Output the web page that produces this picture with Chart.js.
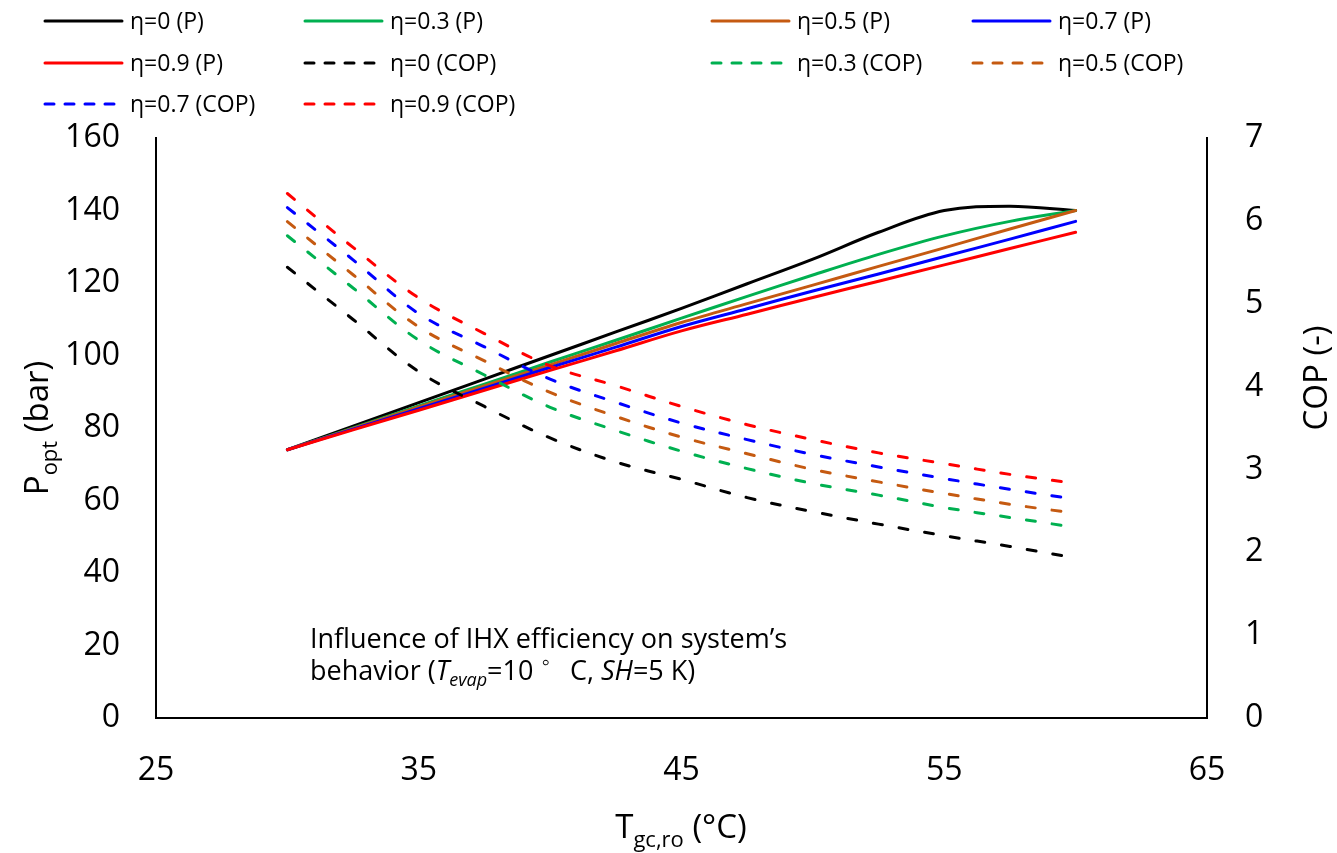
<!DOCTYPE html>
<html>
<head>
<meta charset="utf-8">
<script src="https://cdn.jsdelivr.net/npm/chart.js@4.4.0/dist/chart.umd.min.js"></script>
<style>
  html, body { margin: 0; padding: 0; background: #fff; }
  #grafico { display: block; }
</style>
</head>
<body>
<canvas id="grafico" width="1337" height="853"></canvas>
<script>
const FUENTE = '"Open Sans", "Noto Sans", sans-serif';

// temperatura de salida del gas cooler (°C)
const temperaturas = [30, 32.5, 35, 37.5, 40, 42.5, 45, 47.5, 50, 52.5, 55, 57.5, 60];

// presion optima (bar) para cada eficiencia del IHX
const presionEta0 = [74, 80.5, 87, 93.5, 100, 106.5, 113, 119.8, 126.6, 134, 140, 141.2, 140];
const presionEta03 = [74, 80, 86.1, 92.1, 98.2, 104.2, 110.3, 116.3, 122.2, 127.9, 133, 137, 140];
const presionEta05 = [74, 79.9, 85.8, 91.6, 97.4, 103.3, 109.1, 114.3, 119.4, 124.6, 129.7, 134.9, 140];
const presionEta07 = [74, 79.7, 85.3, 91, 96.7, 102.3, 108, 112.9, 117.8, 122.5, 127.3, 132.1, 137];
const presionEta09 = [74, 79.5, 84.9, 90.4, 95.9, 101.3, 106.8, 111.4, 116, 120.5, 125, 129.5, 134];

// COP para cada eficiencia del IHX
const copEta0 = [5.44, 4.81, 4.18, 3.76, 3.38, 3.09, 2.88, 2.66, 2.49, 2.34, 2.20, 2.07, 1.93];
const copEta03 = [5.82, 5.19, 4.56, 4.14, 3.75, 3.47, 3.22, 3.01, 2.83, 2.69, 2.54, 2.42, 2.30];
const copEta05 = [5.99, 5.35, 4.72, 4.31, 3.93, 3.64, 3.39, 3.19, 3.00, 2.85, 2.71, 2.58, 2.47];
const copEta07 = [6.16, 5.53, 4.88, 4.48, 4.09, 3.81, 3.56, 3.36, 3.18, 3.03, 2.89, 2.76, 2.64];
const copEta09 = [6.33, 5.68, 5.07, 4.64, 4.25, 4.01, 3.76, 3.54, 3.36, 3.20, 3.07, 2.94, 2.83];

const etiquetas = ['η=0 (P)', 'η=0.3 (P)', 'η=0.5 (P)', 'η=0.7 (P)', 'η=0.9 (P)',
    'η=0 (COP)', 'η=0.3 (COP)', 'η=0.5 (COP)', 'η=0.7 (COP)', 'η=0.9 (COP)'];
const colores = ['#000000', '#00B050', '#C55A11', '#0000FF', '#FF0000'];

const ticksX = [25, 35, 45, 55, 65];
const ticksP = [0, 20, 40, 60, 80, 100, 120, 140, 160];
const ticksCOP = [0, 1, 2, 3, 4, 5, 6, 7];

function aPuntos(valores) {
    return temperaturas.map((t, i) => ({ x: t, y: valores[i] }));
}

const series = [presionEta0, presionEta03, presionEta05, presionEta07, presionEta09,
    copEta0, copEta03, copEta05, copEta07, copEta09];

const datasets = series.map((valores, i) => {
    const esCop = i >= 5;
    return {
        label: etiquetas[i],
        data: aPuntos(valores),
        yAxisID: esCop ? 'y1' : 'y',
        borderColor: colores[i % 5],
        backgroundColor: colores[i % 5],
        borderWidth: 3,
        borderDash: esCop ? [9, 17] : [],
        borderCapStyle: 'round',
        pointRadius: 0,
        tension: 0.35,
        fill: false,
        order: 10 - i
    };
});

// dibuja texto por partes (subindices, cursivas) y devuelve el ancho
function partesTexto(ctx, partes, x, y, medir) {
    let ancho = 0;
    partes.forEach(p => {
        ctx.font = (p.italic ? 'italic ' : '') + p.size + 'px ' + FUENTE;
        if (!medir) ctx.fillText(p.t, x + ancho, y + (p.dy || 0));
        ancho += ctx.measureText(p.t).width + (p.gap || 0);
    });
    return ancho;
}

const textosExtra = {
    id: 'textosExtra',
    afterDraw(chart) {
        const ctx = chart.ctx;
        const area = chart.chartArea;
        ctx.save();
        ctx.fillStyle = '#000';
        ctx.textBaseline = 'alphabetic';
        ctx.textAlign = 'left';

        // leyenda en 4 columnas
        const colX = [45, 305, 712, 973];
        const filaY = [21, 63, 104];
        chart.data.datasets.forEach((ds, i) => {
            const x = colX[i % 4];
            const y = filaY[Math.floor(i / 4)];
            ctx.beginPath();
            ctx.lineWidth = 3;
            ctx.lineCap = 'round';
            ctx.strokeStyle = ds.borderColor;
            ctx.setLineDash(ds.borderDash.length ? [9, 11] : []);
            ctx.moveTo(x, y);
            ctx.lineTo(x + 77, y);
            ctx.stroke();
            ctx.setLineDash([]);
            ctx.font = '23px ' + FUENTE;
            ctx.textBaseline = 'middle';
            ctx.fillText(ds.label, x + 85, y + 1);
            ctx.textBaseline = 'alphabetic';
        });

        // titulo eje x
        const tituloX = [{ t: 'T', size: 33 }, { t: 'gc,ro', size: 22, dy: 9 }, { t: ' (°C)', size: 33 }];
        let w = partesTexto(ctx, tituloX, 0, 0, true);
        partesTexto(ctx, tituloX, 681 - w / 2, 838);

        // titulo eje izquierdo
        const tituloP = [{ t: 'P', size: 33 }, { t: 'opt', size: 22, dy: 9 }, { t: ' (bar)', size: 33 }];
        ctx.save();
        ctx.translate(48, 428);
        ctx.rotate(-Math.PI / 2);
        w = partesTexto(ctx, tituloP, 0, 0, true);
        partesTexto(ctx, tituloP, -w / 2, 0);
        ctx.restore();

        // titulo eje derecho
        const tituloCop = [{ t: 'COP (-)', size: 33 }];
        ctx.save();
        ctx.translate(1327, 378);
        ctx.rotate(-Math.PI / 2);
        w = partesTexto(ctx, tituloCop, 0, 0, true);
        partesTexto(ctx, tituloCop, -w / 2, 0);
        ctx.restore();

        // nota dentro del grafico
        const x0 = area.left + 154;
        partesTexto(ctx, [{ t: 'Influence of IHX efficiency on system\u2019s', size: 27 }], x0, 648);
        partesTexto(ctx, [
            { t: 'behavior (', size: 27 },
            { t: 'T', size: 27, italic: true },
            { t: 'evap', size: 18, italic: true, dy: 6 },
            { t: '=10', size: 27, gap: 8 },
            { t: '\u25E6', size: 24, dy: -10, gap: 20 },
            { t: 'C, ', size: 27 },
            { t: 'SH', size: 27, italic: true },
            { t: '=5 K)', size: 27 }
        ], x0, 680);
        ctx.restore();
    }
};

const fuenteTicks = { family: FUENTE, size: 32 };

new Chart(document.getElementById('grafico'), {
    type: 'line',
    data: { datasets: datasets },
    options: {
        responsive: false,
        animation: false,
        layout: { padding: { top: 138, left: 0, right: 0, bottom: 0 } },
        plugins: {
            legend: { display: false },
            title: { display: false },
            tooltip: { enabled: false }
        },
        scales: {
            x: {
                type: 'linear',
                min: 25,
                max: 65,
                afterBuildTicks: s => { s.ticks = ticksX.map(v => ({ value: v })); },
                afterFit: s => { s.height = 135; },
                grid: { display: false, drawTicks: false },
                border: { display: true, color: '#000', width: 2 },
                ticks: { color: '#000', font: fuenteTicks, padding: 34 }
            },
            y: {
                position: 'left',
                min: 0,
                max: 160,
                afterBuildTicks: s => { s.ticks = ticksP.map(v => ({ value: v })); },
                afterFit: s => { s.width = 156; },
                grid: { display: false, drawTicks: false },
                border: { display: true, color: '#000', width: 2 },
                ticks: { color: '#000', font: fuenteTicks, padding: 36 }
            },
            y1: {
                position: 'right',
                min: 0,
                max: 7,
                afterBuildTicks: s => { s.ticks = ticksCOP.map(v => ({ value: v })); },
                afterFit: s => { s.width = 130; },
                grid: { display: false, drawTicks: false },
                border: { display: true, color: '#000', width: 2 },
                ticks: { color: '#000', font: fuenteTicks, padding: 38 }
            }
        }
    },
    plugins: [textosExtra]
});
</script>
</body>
</html>
